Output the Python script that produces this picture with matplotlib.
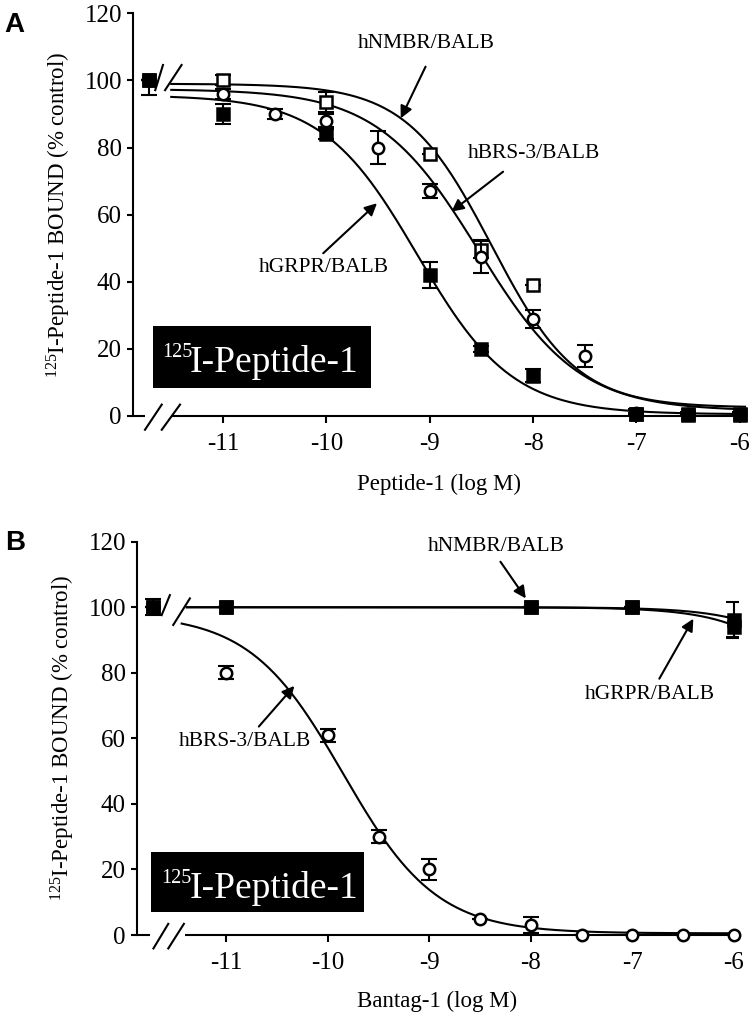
import numpy as np
import matplotlib
matplotlib.use("Agg")
import matplotlib.pyplot as plt
from matplotlib.patches import Rectangle

plt.rcParams['font.family'] = ['Liberation Serif', 'DejaVu Serif']
plt.rcParams['mathtext.default'] = 'regular'

# ---------------- data (panel A: Peptide-1) ----------------
CTRL = -11.72  # position of the control point left of the axis break
a_nmbr_x = [CTRL, -11, -10, -9, -8.5, -8, -7, -6.5, -6]
a_nmbr_y = [100, 100, 93.5, 78, 49.5, 39, 0.5, 0.5, 0.5]
a_nmbr_e = [0, 1.5, 3, 0, 2.5, 0, 0, 0, 0]

a_brs3_x = [CTRL, -11, -10.5, -10, -9.5, -9, -8.5, -8, -7.5, -7, -6.5, -6]
a_brs3_y = [100, 96, 90, 88, 80, 67, 47.5, 29, 18, 0.8, 0.5, 0.5]
a_brs3_e = [0, 1.5, 1.5, 2, 4.8, 2, 5, 2.7, 3.3, 0, 0, 0]

a_grpr_x = [CTRL, -11, -10, -9, -8.5, -8, -7, -6.5, -6]
a_grpr_y = [100, 90, 84, 42, 20, 12, 0.5, 0.3, 0.3]
a_grpr_lo = [4.4, 3, 1.5, 4, 1, 2, 1.5, 1, 1]
a_grpr_hi = [0, 3, 1.5, 4, 1, 2, 1.5, 1, 1]

# fitted sigmoid parameters: top, bottom, logIC50, Hill
a_fit_nmbr = [99.0, 2.5, -8.40, 1.05]
a_fit_brs3 = [97.4, 1.5, -8.53, 0.89]
a_fit_grpr = [95.6, 0.5, -9.12, 0.95]

# ---------------- data (panel B: Bantag-1) ----------------
b_nmbr_x = [CTRL, -11, -8, -7, -6]
b_nmbr_y = [100, 100, 100, 100, 96]
b_nmbr_e = [0, 0, 0, 0, 5.5]

b_grpr_x = [CTRL, -11, -8, -7, -6]
b_grpr_y = [100, 100, 100, 100, 94]
b_grpr_e = [0, 0, 0, 0, 3]

b_brs3_x = [CTRL, -11, -10, -9.5, -9, -8.5, -8, -7.5, -7, -6.5, -6]
b_brs3_y = [100, 80, 61, 30, 20, 5, 3, 0, 0, 0, 0]
b_brs3_e = [2.5, 2, 2, 2, 3.3, 0, 2.5, 0, 0, 0, 0]

b_fit_nmbr = [100.0, 0.0, -4.56, 1.0]
b_fit_grpr = [100.0, 0.0, -4.77, 1.0]
b_fit_brs3 = [98.0, 0.5, -9.85, 0.944]

xticks = [-11, -10, -9, -8, -7, -6]
yticks = [0, 20, 40, 60, 80, 100, 120]


def sigmoid(x, p):
    top, bottom, logc, n = p
    return bottom + (top - bottom) / (1 + 10 ** ((x - logc) * n))


W, H = 752, 1016
fig = plt.figure(figsize=(W / 100, H / 100), dpi=100)

LW = 1.5
TICKFS = 18


def make_axes(rect, xlim):
    ax = fig.add_axes(rect)
    ax.set_xlim(*xlim)
    ax.set_ylim(0, 120)
    for s in ['top', 'right', 'bottom']:
        ax.spines[s].set_visible(False)
    ax.spines['left'].set_linewidth(LW)
    ax.set_xticks(xticks)
    ax.set_xticklabels([str(t) for t in xticks])
    ax.set_yticks(yticks)
    ax.tick_params(axis='x', direction='out', length=5, width=LW, labelsize=TICKFS, pad=7)
    ax.tick_params(axis='y', direction='out', length=4, width=LW, labelsize=TICKFS, pad=4)
    return ax


def axis_break(ax, x_axis_end, x_axis_start, slashes_x, slashes_top):
    xl = ax.get_xlim()
    ax.plot([xl[0], x_axis_end], [0, 0], color='k', lw=LW, clip_on=False, solid_capstyle='butt')
    ax.plot([x_axis_start, xl[1]], [0, 0], color='k', lw=LW, clip_on=False, solid_capstyle='butt')
    for (x0, x1) in slashes_x:
        ax.plot([x0, x1], [-4.1, 3.4], color='k', lw=LW, clip_on=False)
    for (x0, y0, x1, y1) in slashes_top:
        ax.plot([x0, x1], [y0, y1], color='k', lw=LW, clip_on=False, zorder=8)


def series(ax, x, y, e, marker, filled, z):
    ax.errorbar(x, y, yerr=e, fmt='none', ecolor='k', elinewidth=LW, capsize=5.5,
                capthick=LW, zorder=z)
    ax.plot(x, y, linestyle='none', marker=marker, markersize=8.2,
            markerfacecolor='k' if filled else 'white', markeredgecolor='k',
            markeredgewidth=1.8, zorder=z + 0.5, clip_on=False)


def label_box(box, txt_pos, sup_pos):
    x0, y0, x1, y1 = box
    fig.patches.append(Rectangle((x0 / W, 1 - y1 / H), (x1 - x0) / W, (y1 - y0) / H,
                                 transform=fig.transFigure, facecolor='black',
                                 edgecolor='none', zorder=5))
    fig.text(sup_pos[0] / W, 1 - sup_pos[1] / H, '125', color='white', fontsize=14.5,
             ha='left', va='baseline', zorder=6)
    fig.text(txt_pos[0] / W, 1 - txt_pos[1] / H, 'I-Peptide-1', color='white',
             fontsize=27, ha='left', va='baseline', zorder=6)


ylab = r'$^{125}$I-Peptide-1 BOUND (% control)'
ann = dict(arrowstyle='-|>', color='k', lw=LW, mutation_scale=18, shrinkA=0, shrinkB=0)

# ================= Panel A =================
axA = make_axes([133 / W, 1 - 416 / H, (745 - 133) / W, (416 - 13.3) / H], (-11.87, -5.95))
axA.set_xlabel('Peptide-1 (log M)', fontsize=16.5, labelpad=14)
axA.set_ylabel(ylab, fontsize=16.5, labelpad=8)

xs = np.linspace(-11.5, -5.95, 300)
for p in (a_fit_nmbr, a_fit_brs3, a_fit_grpr):
    axA.plot(xs, sigmoid(xs, p), color='k', lw=LW, zorder=2, clip_on=False)

series(axA, a_nmbr_x, a_nmbr_y, a_nmbr_e, 's', False, 3)
series(axA, a_brs3_x, a_brs3_y, a_brs3_e, 'o', False, 4)
series(axA, a_grpr_x, a_grpr_y, [a_grpr_lo, a_grpr_hi], 's', True, 5)

axis_break(axA, -11.75, -11.50,
           [(-11.754, -11.592), (-11.592, -11.415)],
           [(-11.655, 97.1, -11.58, 104.6), (-11.56, 97.1, -11.40, 104.6)])

axA.text(-9.03, 111.0, 'hNMBR/BALB', fontsize=15.5, ha='center', va='center')
axA.annotate('', xy=(-9.28, 88.7), xytext=(-9.04, 104.1), arrowprops=ann)
axA.text(-7.99, 78.3, 'hBRS-3/BALB', fontsize=15.5, ha='center', va='center')
axA.annotate('', xy=(-8.79, 60.9), xytext=(-8.29, 72.8), arrowprops=ann)
axA.text(-10.02, 44.3, 'hGRPR/BALB', fontsize=15.5, ha='center', va='center')
axA.annotate('', xy=(-9.51, 63.4), xytext=(-10.03, 48.5), arrowprops=ann)

label_box((152.7, 326, 370.7, 388.3), (190, 372), (162, 357))

# ================= Panel B =================
axB = make_axes([137 / W, 1 - 935 / H, (738 - 137) / W, (935 - 541.7) / H], (-11.88, -5.96))
axB.set_xlabel('Bantag-1 (log M)', fontsize=16.5, labelpad=12)
axB.set_ylabel(ylab, fontsize=16.5, labelpad=8)

xs2 = np.linspace(-11.39, -5.96, 300)
for p in (b_fit_nmbr, b_fit_grpr):
    axB.plot(xs2, sigmoid(xs2, p), color='k', lw=LW, zorder=2, clip_on=False)
xs3 = np.linspace(-11.44, -5.96, 300)
axB.plot(xs3, sigmoid(xs3, b_fit_brs3), color='k', lw=LW, zorder=2, clip_on=False)

series(axB, b_brs3_x, b_brs3_y, b_brs3_e, 'o', False, 3)
series(axB, b_grpr_x, b_grpr_y, b_grpr_e, 's', True, 4)
series(axB, b_nmbr_x, b_nmbr_y, b_nmbr_e, 's', True, 5)

axis_break(axB, -11.75, -11.41,
           [(-11.718, -11.572), (-11.572, -11.418)],
           [(-11.637, 97.6, -11.556, 103.7), (-11.523, 94.6, -11.359, 102.7)])

axB.text(-8.34, 118.4, 'hNMBR/BALB', fontsize=15.5, ha='center', va='center')
axB.annotate('', xy=(-8.05, 102.7), xytext=(-8.30, 113.9), arrowprops=ann)
axB.text(-6.83, 73.5, 'hGRPR/BALB', fontsize=15.5, ha='center', va='center')
axB.annotate('', xy=(-6.40, 96.5), xytext=(-6.735, 78.2), arrowprops=ann)
axB.text(-10.82, 59.0, 'hBRS-3/BALB', fontsize=15.5, ha='center', va='center')
axB.annotate('', xy=(-10.33, 76.0), xytext=(-10.68, 63.6), arrowprops=ann)

label_box((151.3, 851.7, 364, 912.3), (190, 897.5), (161.5, 883))

fig.text(4 / W, 1 - 32 / H, 'A', fontsize=20, fontweight='bold', family='Liberation Sans',
         ha='left', va='baseline')
fig.text(5 / W, 1 - 550 / H, 'B', fontsize=20, fontweight='bold', family='Liberation Sans',
         ha='left', va='baseline')

fig.savefig('out.png', dpi=100)
